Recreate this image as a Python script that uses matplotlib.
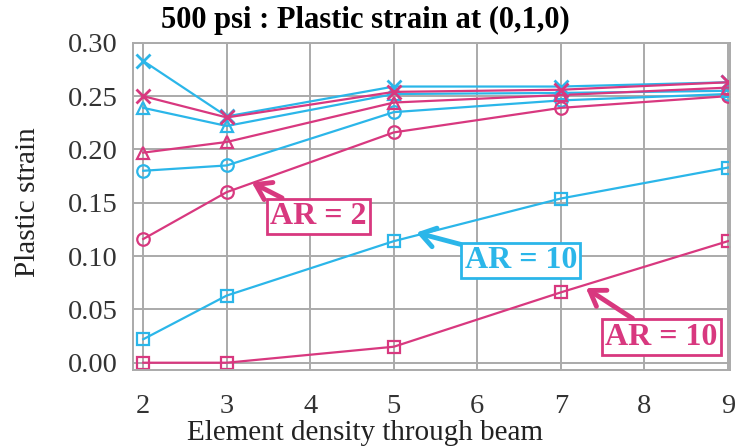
import matplotlib.pyplot as plt

plt.rcParams['font.family'] = ['Liberation Serif', 'DejaVu Serif']

x = [2, 3, 5, 7, 9]

cyan_x = [0.283, 0.231, 0.259, 0.259, 0.263]
mag_x = [0.250, 0.230, 0.254, 0.256, 0.263]
cyan_tri = [0.239, 0.222, 0.252, 0.253, 0.255]
mag_tri = [0.197, 0.207, 0.244, 0.251, 0.258]
cyan_circ = [0.180, 0.185, 0.235, 0.246, 0.252]
mag_circ = [0.116, 0.160, 0.216, 0.239, 0.250]
cyan_sq = [0.022, 0.063, 0.114, 0.154, 0.183]
mag_sq = [0.000, 0.000, 0.015, 0.066, 0.114]

CYAN = '#2BB6E9'
MAG = '#D8387F'

fig = plt.figure(figsize=(7.4, 4.46), dpi=100)
ax = fig.add_axes([0.18, 0.170, 0.806, 0.734])

mk = dict(markersize=9, markerfacecolor='none', markeredgewidth=1.6, lw=1.6)
ax.plot(x, cyan_sq, color=CYAN, marker='s', **mk)
ax.plot(x, mag_sq, color=MAG, marker='s', **mk)
ax.plot(x, cyan_circ, color=CYAN, marker='o', **mk)
ax.plot(x, mag_circ, color=MAG, marker='o', **mk)
ax.plot(x, cyan_tri, color=CYAN, marker='^', **mk)
ax.plot(x, mag_tri, color=MAG, marker='^', **mk)
ax.plot(x, cyan_x, color=CYAN, marker='x', markersize=10, markeredgewidth=2, lw=1.6)
ax.plot(x, mag_x, color=MAG, marker='x', markersize=10, markeredgewidth=2, lw=1.6)

ax.set_xlim(1.88, 9.02)
ax.set_ylim(-0.007, 0.30)
ax.set_xticks(range(2, 10))
ax.set_yticks([0.0, 0.05, 0.10, 0.15, 0.20, 0.25, 0.30])
ax.set_yticklabels(['0.00', '0.05', '0.10', '0.15', '0.20', '0.25', '0.30'])
ax.grid(True, color='#AAAAAA', lw=1.4)
ax.set_axisbelow(True)
for s in ax.spines.values():
    s.set_color('#AAAAAA')
    s.set_linewidth(1.4)
ax.tick_params(length=0, labelsize=20.5, colors='#333333')
ax.tick_params(axis='x', pad=17)
ax.tick_params(axis='y', pad=11)

fig.text(0.494, 0.955, '500 psi : Plastic strain at (0,1,0)', fontsize=22,
         fontweight='bold', ha='center', va='center')
fig.text(0.493, 0.030, 'Element density through beam', fontsize=21,
         ha='center', va='center', color='#222222')
fig.text(0.038, 0.547, 'Plastic strain', fontsize=21, rotation=90,
         ha='center', va='center', color='#222222')

def note(text, xy, xytext, col):
    ax.annotate(text, xy=xy, xytext=xytext, ha='center', va='center',
                fontsize=23, fontweight='bold', color=col,
                bbox=dict(boxstyle='square,pad=0.1', fc='white', ec=col, lw=2),
                arrowprops=dict(arrowstyle='->,head_length=0.45,head_width=0.3',
                                color=col, lw=3.5, shrinkA=0, shrinkB=0))

note('AR = 2', (3.30, 0.169), (4.10, 0.137), MAG)
note('AR = 10', (5.27, 0.122), (6.52, 0.096), CYAN)
note('AR = 10', (7.30, 0.070), (8.20, 0.024), MAG)

fig.savefig('out.png', dpi=100)
